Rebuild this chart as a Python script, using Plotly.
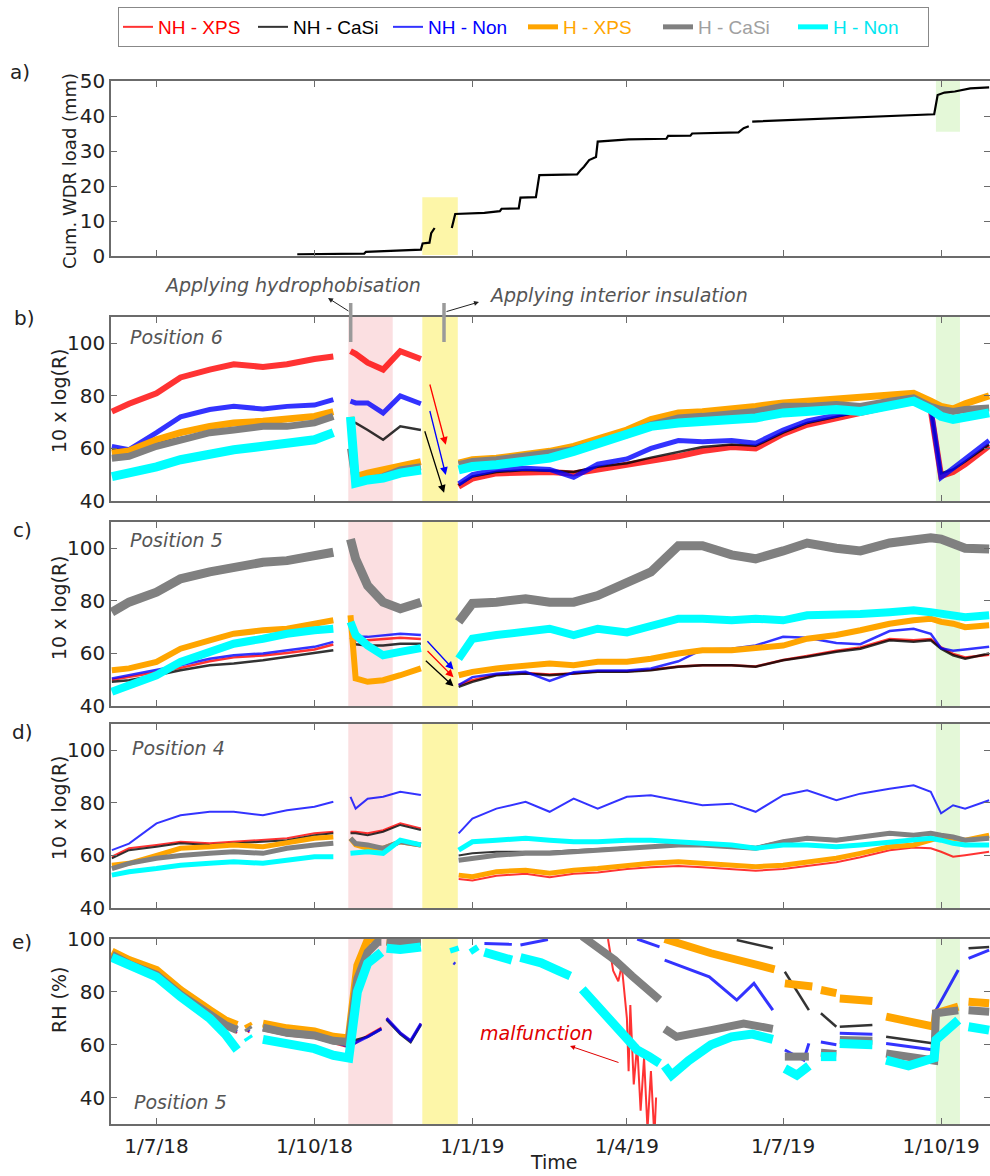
import plotly.graph_objects as go

# ---------------- data ----------------
SERIES = ["NH - XPS", "NH - CaSi", "NH - Non", "H - XPS", "H - CaSi", "H - Non"]

TICK_DATES = ["2018-07-01", "2018-10-01", "2019-01-01", "2019-04-01", "2019-07-01", "2019-10-01"]
TICK_TEXT = ["1/7/18", "1/10/18", "1/1/19", "1/4/19", "1/7/19", "1/10/19"]

# treatment periods
HYDRO_PERIOD = ["2018-10-20 17:00", "2018-11-15 14:00"]
INSUL_PERIOD = ["2018-12-02 20:00", "2018-12-23 12:00"]
RAIN_PERIOD = ["2019-09-28", "2019-10-12"]

# a) cumulative wind-driven rain load (mm)
WDR_DATES = ["2018-09-21", "2018-10-30", "2018-10-31", "2018-12-02", "2018-12-03", "2018-12-07", "2018-12-08",
             "2018-12-10", "2018-12-15", "2018-12-20", "2018-12-22", "2019-01-08", "2019-01-17", "2019-01-18",
             "2019-01-28", "2019-01-29", "2019-02-07", "2019-02-09", "2019-03-03", "2019-03-05", "2019-03-07",
             "2019-03-10", "2019-03-14", "2019-03-15", "2019-04-02", "2019-04-24", "2019-04-25", "2019-05-08",
             "2019-05-09", "2019-06-05", "2019-06-08", "2019-06-11", "2019-06-12", "2019-06-13", "2019-09-27",
             "2019-09-29", "2019-10-03", "2019-10-09", "2019-10-18", "2019-10-29"]
WDR_MM = [0.5, 0.7, 1.2, 1.8, 3.6, 3.8, 6.5, 8.0, None, 8.0, 12.0, 12.3, 12.8, 13.5, 13.6, 16.7, 16.8, 23.1,
          23.3, 24.5, 25.5, 27.4, 28.3, 32.7, 33.3, 33.5, 34.3, 34.4, 35.0, 35.3, 36.5, 37.1, None, 38.4, 40.5,
          46.0, 46.7, 47.0, 47.9, 48.2]

# b)-d) 10 x log(R), common date grid (None = no data)
R_DATES = ["2018-06-05", "2018-06-15", "2018-07-01", "2018-07-15", "2018-08-01", "2018-08-15", "2018-09-01",
           "2018-09-15", "2018-10-01", "2018-10-12", "2018-10-17",
           "2018-10-22", "2018-10-25", "2018-11-01", "2018-11-10", "2018-11-20", "2018-12-02", "2018-12-12",
           "2018-12-24", "2019-01-01", "2019-01-15", "2019-02-01", "2019-02-15", "2019-03-01", "2019-03-15",
           "2019-04-01", "2019-04-15", "2019-05-01", "2019-05-15", "2019-06-01", "2019-06-15", "2019-07-01",
           "2019-07-15", "2019-08-01", "2019-08-15", "2019-09-01", "2019-09-15", "2019-09-25", "2019-10-01",
           "2019-10-08", "2019-10-15", "2019-10-29"]

# Position 6
B_NH_XPS = [74, 77, 81, 87, 90, 92, 91, 92, 94, 95, None, 97, 96, 92.6, 90, 97, 94, None,
            45.5, 48.5, 50.5, 51, 51, 50.5, 52, 53.5, 55.5, 57, 59, 60.5, 60, 65.5, 69, 71.5, 73.5, 75.5, 78, 74.5, 49.5, 51, 54, 61]
B_NH_CASI = [59.5, 59.5, 62, 64, 66, 67, 68, 68, 69.5, 71.5, None, 70, 69.7, 67, 63.3, 68.4, 67, None,
             46, 49.3, 51, 51.8, 51.5, 51, 53, 54.4, 56.5, 58.5, 60.5, 61.5, 61, 66, 69.7, 72, 74, 76, 79, 75, 50.5, 52, 55, 61.5]
B_NH_NON = [60.8, 59.5, 66, 72, 74.8, 76, 75, 76, 76.5, 78.6, None, 78, 77.3, 77.3, 73.5, 80, 77, None,
            46.5, 50, 52, 52.5, 52, 49, 54, 56, 60, 63, 62.5, 63, 62, 67, 70.5, 72.5, 74.5, 77, 81, 75.5, 49, 52.5, 56, 63]
B_H_XPS = [58.2, 59, 63.3, 66, 68.4, 69.7, 70.3, 71, 72.2, 74, None, 72, 49.3, 50.6, 51.8, 53, 55, None,
           54.4, 55.7, 56.3, 57.6, 58.9, 60.8, 63.3, 67, 71, 73.5, 74, 74.8, 76, 77.3, 78, 78.6, 79.2, 80, 81, 78, 76, 75, 77, 80]
B_H_CASI = [56.3, 57, 60.8, 63.3, 66, 67, 68.4, 68.4, 69.7, 72.2, None, 60, 46.8, 48, 49.3, 51.8, 53, None,
            53.8, 55, 55.7, 56.9, 58.2, 59.5, 62, 65.2, 69, 71.6, 72.2, 72.9, 74.1, 76, 76, 76.7, 76, 78, 79.2, 76, 74.8, 74.1, 74.8, 75.4]
B_H_NON = [49.3, 50.6, 53, 55.7, 58.2, 59.5, 60.8, 62, 63.3, 66, None, 72, 46.8, 48, 48.7, 50.6, 51.8, None,
           51.8, 53.1, 53.8, 55, 56.3, 58.9, 62, 65.9, 68.4, 69.7, 70.3, 71, 71.6, 73.5, 74.1, 74.8, 74.1, 76.7, 78, 74.8, 72.2, 71, 71.6, 73.5]

# Position 5
C_NH_XPS = [50, 51, 52.8, 54.5, 57, 58.5, 59.2, 60.2, 61.5, 63.4, None, 68, 65, 65, 65.6, 66, 65.5, None,
            48, 49.8, 52, 52.6, 52, 52.4, 53.2, 53.2, 53.8, 55, 55.5, 55.5, 55, 57.5, 59, 61, 62.3, 65.5, 65, 65.5, 62.3, 59.8, 58.5, 59.5]
C_NH_CASI = [49.2, 49.8, 51.7, 53.6, 55.5, 56.2, 57.4, 58.7, 60, 61.2, None, 66, 63.5, 63, 63, 63.7, 63.7, None,
             47.3, 49.2, 51.7, 52.4, 51.7, 52.4, 53, 53, 53.6, 54.9, 55.5, 55.5, 54.9, 57.4, 58.7, 60.6, 61.8, 65, 64.4, 65, 61.8, 59.3, 58, 60]
C_NH_NON = [50.5, 51.7, 53.6, 55.5, 58, 59.3, 60, 61.2, 62.5, 64.4, None, 69.4, 66.3, 66.3, 67, 67.5, 67, None,
            48, 51, 52.3, 53, 49.5, 52.8, 53.5, 53.5, 54.3, 57, 61.5, 61.8, 63, 66.3, 66, 64, 63.5, 68.5, 69.4, 67.5, 62, 61, 61.5, 62.5]
C_H_XPS = [53.6, 54.3, 56.8, 61.8, 65, 67.5, 68.8, 69.4, 71.3, 72.6, None, 74.5, 50.5, 49.2, 49.8, 51.7, 54.3, None,
           51.7, 53, 54.3, 55.5, 56.2, 55.5, 56.8, 56.8, 58, 60, 61.2, 61.2, 61.8, 63, 65.6, 67, 68.8, 71.3, 72.6, 73.2, 72, 71.3, 70, 70.7]
C_H_CASI = [75.7, 79.5, 83.3, 88.4, 91, 92.8, 94.7, 95.3, 97.2, 98.5, None, 103.5, 96, 85.8, 79.5, 77, 79.5, None,
            72, 79, 79.5, 80.8, 79.5, 79.5, 82, 87, 91, 101, 101, 97.5, 96, 99, 102, 100, 99, 102, 103.5, 104, 103.5, 101.5, 100, 99.7]
C_H_NON = [45.4, 48, 51.7, 56.8, 60.6, 63.7, 65.6, 67.5, 68.8, 69.4, None, 72, 67, 63, 59.3, 60.6, 62, None,
           58, 65.6, 67, 68, 69.4, 67, 69.4, 68, 70.7, 73.2, 73.2, 72.6, 73.2, 72.6, 74.5, 74.5, 75, 75.7, 76.4, 75.7, 75, 74.5, 73.8, 74.5]

# Position 4
D_NH_XPS = [59.5, 62.7, 64, 65.2, 64.6, 65.2, 65.8, 66.5, 68.4, 69, None, 69, 69, 68.4, 69.6, 72.2, 70.3, None,
            51, 50.5, 52.3, 53, 51.7, 53, 53.5, 54.8, 55.5, 56, 55.5, 54.8, 54.2, 54.8, 56, 57.4, 59.3, 62, 63, 62.7, 61.4, 59.5, 60.1, 61.4]
D_NH_CASI = [58.9, 62, 63.3, 64.6, 64, 64.6, 65.2, 65.8, 67.7, 68.4, None, 68.4, 68.4, 67.7, 69, 71.6, 69.7, None,
             60, 60.8, 61.4, 61.4, 61.4, 62, 62.5, 63, 63.5, 64.5, 64.5, 63.8, 63.2, 65.5, 66.8, 66.2, 67.3, 68.6, 68, 68.6, 67.8, 67.2, 66, 66.8]
D_NH_NON = [62, 64.5, 72.2, 75.3, 76.6, 76.6, 75.3, 77.2, 78.5, 80.4, None, 82.3, 77.8, 81.6, 82.3, 84.2, 83, None,
            68.4, 74, 77.8, 80.4, 76.6, 81.6, 77.8, 82.3, 82.9, 81, 79.1, 79.7, 76.6, 82.9, 84.8, 81, 83.5, 85.4, 86.7, 84.2, 76, 79.1, 77.8, 81]
D_H_XPS = [56.3, 57, 60, 62.7, 63.3, 64, 63.3, 64.6, 66.5, 67, None, 66.5, 64, 62.7, 62.7, 65.2, 64, None,
           52.5, 51.9, 53.8, 54.4, 53.2, 54.4, 55, 56.3, 57, 57.6, 57, 56.3, 55.7, 56.3, 57.6, 58.9, 60.8, 63.3, 64, 65.8, 67, 66.5, 65.8, 67.7]
D_H_CASI = [55, 57, 58.9, 60, 60.8, 61.4, 60.8, 62.7, 64, 64.6, None, 66.5, 64.5, 64, 62.7, 65.2, 64, None,
            58.2, 58.9, 60.1, 60.8, 60.8, 61.4, 62, 62.7, 63.3, 64, 64, 63.3, 62.7, 65.2, 66.5, 65.8, 67, 68.4, 67.7, 68.4, 67.7, 67, 65.8, 66.5]
D_H_NON = [52.5, 53.8, 55, 56.3, 57, 57.6, 57, 58.2, 59.5, 59.5, None, 60.8, 61, 61.4, 60.8, 65.8, 64, None,
           62, 65.2, 65.8, 66.5, 65.8, 65.2, 65.2, 65.8, 65.8, 65.2, 64.6, 64, 62.7, 64, 64, 63.3, 64, 65.2, 65.8, 66.5, 65.8, 64.6, 64, 64]

# e) RH (%) at position 5, each sensor has its own gaps
E_PRE_DATES = ["2018-06-05", "2018-06-15", "2018-07-01", "2018-07-15", "2018-08-01", "2018-08-10", "2018-08-17",
               "2018-08-20", "2018-08-23", "2018-08-24", "2018-08-28", "2018-09-01", "2018-09-15", "2018-10-01",
               "2018-10-12", "2018-10-21"]
E_HYD_DATES = ["2018-10-23", "2018-10-26", "2018-11-01", "2018-11-07", "2018-11-09", "2018-11-10", "2018-11-12",
               "2018-11-20", "2018-11-26", "2018-12-02", "2018-12-10"]
E_NH_HYD_DATES = ["2018-11-01", "2018-11-09", "2018-11-10", "2018-11-12", "2018-11-15", "2018-11-20", "2018-11-26",
                  "2018-12-02", "2018-12-10"]

E_NH_XPS_DATES = E_PRE_DATES + E_NH_HYD_DATES + [
    "2019-03-21", "2019-03-24", "2019-03-27", "2019-03-29", "2019-04-01", "2019-04-02", "2019-04-03", "2019-04-05",
    "2019-04-07", "2019-04-09", "2019-04-11", "2019-04-13", "2019-04-15", "2019-04-17", "2019-04-18"]
E_NH_XPS = [93, 89.5, 85.5, 78, 70.5, 66.5, 64.5, None, 65.5, 64.5, None, 65.5, 63.5, 62.5, 60.5, 59,
            63.5, 66.5, None, 70, 68, 64.5, 61.5, 68, None,
            100, 88, 84, 90, 70, 50, 75, 45, 60, 35, 55, 28, 50, 25, 40]

E_NH_CASI_DATES = E_PRE_DATES + E_NH_HYD_DATES + [
    "2019-06-04", "2019-06-25", "2019-06-29", "2019-07-02", "2019-07-16", "2019-07-20", "2019-07-23", "2019-08-01",
    "2019-08-02", "2019-08-03", "2019-08-22", "2019-08-26", "2019-08-30", "2019-09-27", "2019-09-28", "2019-10-17",
    "2019-10-29"]
E_NH_CASI = [94.5, 91.5, 87.5, 80, 72.5, 69, 67, None, 67.5, 66.5, None, 67.5, 66, 64.5, 62.5, 61,
             63, 66, None, 69.5, 67.5, 64, 61, 67.5, None,
             99.6, 96.5, None, 87.6, 73.1, None, 71.9, 66.8, None, 66.8, 67.5, None, 63, 60.5, None, 96.5, 97]

E_NH_NON_DATES = E_PRE_DATES + E_NH_HYD_DATES + [
    "2018-12-21", "2018-12-22", "2018-12-27", "2019-01-08", "2019-01-24", "2019-01-26", "2019-01-29", "2019-02-14",
    "2019-02-20", "2019-04-07", "2019-04-20", "2019-04-21", "2019-04-23", "2019-05-19", "2019-06-04", "2019-06-14",
    "2019-06-25", "2019-06-29", "2019-07-02", "2019-07-13", "2019-07-16", "2019-07-20", "2019-07-23", "2019-08-01",
    "2019-08-02", "2019-08-03", "2019-08-22", "2019-08-26", "2019-08-30", "2019-09-27", "2019-09-28", "2019-10-11",
    "2019-10-14", "2019-10-17", "2019-10-29"]
E_NH_NON = [93.5, 90, 86, 78.5, 71, 67, 65, None, 66, 65, None, 66, 64, 63, 61, 59.5,
            63, 66, None, 70, 68, 64.5, 61.5, 68, None,
            91, 90.5, None, 98.3, 98, None, 97.7, 99.8, None, 100, 97, None, 92, 85.7, 76.9, 83.2, 73.1, None,
            58, 54.2, 60.5, None, 61, 60, None, 64.3, 64, None, 60.5, 58, 73, 88.3, None, 92.7, 95.8]

E_H_XPS_DATES = E_PRE_DATES + E_HYD_DATES + [
    "2019-04-23", "2019-05-20", "2019-06-26", "2019-06-29", "2019-07-02", "2019-07-18", "2019-07-20", "2019-07-23",
    "2019-08-01", "2019-08-02", "2019-08-03", "2019-08-22", "2019-08-26", "2019-08-30", "2019-09-27", "2019-09-28",
    "2019-10-11", "2019-10-14", "2019-10-17", "2019-10-29"]
E_H_XPS = [95.2, 92, 88.3, 80.7, 73.1, 69.3, 67.5, None, 68, 66.8, None, 68, 66.2, 65, 63, 62.4,
           75, 90, 99.6, 101, 100, None, 99, 98.5, 99, 99, None,
           100, 94.6, 88.5, None, 83.2, 82, None, 80.7, 79.5, None, 77.5, 76.5, None, 70.6, 66.8, 71.9, 74.4, None,
           76.3, 75.7]

E_H_CASI_DATES = E_PRE_DATES + E_HYD_DATES + [
    "2019-03-06", "2019-03-15", "2019-03-25", "2019-04-04", "2019-04-12", "2019-04-20", "2019-04-21", "2019-04-23",
    "2019-04-30", "2019-05-20", "2019-06-08", "2019-06-25", "2019-06-29", "2019-07-02", "2019-07-16", "2019-07-20",
    "2019-07-23", "2019-08-01", "2019-08-02", "2019-08-03", "2019-08-22", "2019-08-26", "2019-08-30", "2019-09-27",
    "2019-09-28", "2019-10-11", "2019-10-14", "2019-10-17", "2019-10-29"]
E_H_CASI = [94, 90.5, 86.5, 79, 71.5, 67.5, 65.5, None, 66.5, 65.5, None, 66.5, 64.5, 63.5, 61.5, 61,
            70, 85, 95, 99, 99, None, 99, 98.5, 99, 99, None,
            101, 97, 92, 86, 81, 77, None, 66, 63, 65.5, 68, 66, None, 55.5, 55.5, None, 57, 56.5, None,
            61.8, 61.5, None, 56.7, 54, 71.9, 73, None, 73, 72.5]

E_H_NON_DATES = E_PRE_DATES + E_HYD_DATES + [
    "2018-12-21", "2018-12-22", "2018-12-27", "2019-01-01", "2019-01-03", "2019-01-06", "2019-01-08", "2019-01-15",
    "2019-01-24", "2019-01-26", "2019-01-29", "2019-02-10", "2019-02-20", "2019-02-27", "2019-03-02", "2019-03-06",
    "2019-03-15", "2019-03-23", "2019-04-01", "2019-04-07", "2019-04-14", "2019-04-20", "2019-04-21", "2019-04-23",
    "2019-04-27", "2019-05-07", "2019-05-20", "2019-06-01", "2019-06-13", "2019-06-25", "2019-06-29", "2019-07-02",
    "2019-07-09", "2019-07-16", "2019-07-20", "2019-07-23", "2019-08-01", "2019-08-02", "2019-08-03", "2019-08-22",
    "2019-08-26", "2019-08-30", "2019-09-12", "2019-09-27", "2019-09-28", "2019-10-11", "2019-10-14", "2019-10-17",
    "2019-10-29"]
E_H_NON = [93, 90, 85.7, 78.2, 70, 64, 58, None, 63, 62, None, 62, 60, 58.5, 56, 55,
           65, 80, 90.8, 94, 95, None, 96.5, 96, 96.5, 97, None,
           97, 95, None, 97, 95, None, 95, 94, 92, None, 93, 91, 88, 86, None, 81, 74.4, 69.3, 63, 58, 55.5, 53, None,
           52, 48.5, 54, 60, 63, 64, 62, None, 51, 48.5, 52, None, 55.5, 55.5, None, 60.5, 60, None,
           54.2, 52, 55, 61.8, 69.3, None, 66.8, 65.5]

# ---------------- styling ----------------
LINE_COLORS = ["rgba(255,0,0,0.8)", "rgba(0,0,0,0.8)", "rgba(0,0,255,0.8)", "#FFA500", "#808080", "#00FFFF"]
TEXT_COLORS = ["#FF0000", "#000000", "#0000FF", "#FFA500", "#A0A0A0", "#00E6F0"]
WIDTHS = {
    "b": [6, 2.5, 5, 7, 7, 9],
    "c": [2.5, 2.5, 2.5, 6, 9, 8],
    "d": [2, 2, 2, 5, 5, 5],
    "e": [2, 2.5, 3, 8, 8, 9],
}
FONT = "DejaVu Sans"
AXIS_COLOR = "#6b6b6b"
W, H = 990, 1176
LEFT = 111
PLOT_W = W - LEFT


def px_x(px):
    return (px - LEFT) / PLOT_W


def px_y(py):
    return 1 - py / H


# panel pixel extents (top, bottom)
PANELS = {"a": (81, 256), "b": (317, 501), "c": (522, 706), "d": (724, 908), "e": (939, 1124)}
AXIS_IDS = {"a": "", "b": "2", "c": "3", "d": "4", "e": "5"}

fig = go.Figure()

# a)
fig.add_trace(go.Scatter(x=WDR_DATES, y=WDR_MM, mode="lines", line=dict(color="black", width=2.2),
                         showlegend=False, xaxis="x", yaxis="y", name="Cum. WDR"))

R_DATA = {
    "b": [B_NH_XPS, B_NH_CASI, B_NH_NON, B_H_XPS, B_H_CASI, B_H_NON],
    "c": [C_NH_XPS, C_NH_CASI, C_NH_NON, C_H_XPS, C_H_CASI, C_H_NON],
    "d": [D_NH_XPS, D_NH_CASI, D_NH_NON, D_H_XPS, D_H_CASI, D_H_NON],
}
for key in ["b", "c", "d"]:
    aid = AXIS_IDS[key]
    for s, vals in enumerate(R_DATA[key]):
        fig.add_trace(go.Scatter(
            x=R_DATES, y=vals, mode="lines",
            line=dict(color=LINE_COLORS[s], width=WIDTHS[key][s]),
            name="<span style='color:%s'>%s</span>" % (TEXT_COLORS[s], SERIES[s]),
            legendgroup=SERIES[s], showlegend=(key == "d"),
            xaxis="x" + aid, yaxis="y" + aid))

E_DATA = [(E_NH_XPS_DATES, E_NH_XPS), (E_NH_CASI_DATES, E_NH_CASI), (E_NH_NON_DATES, E_NH_NON),
          (E_H_XPS_DATES, E_H_XPS), (E_H_CASI_DATES, E_H_CASI), (E_H_NON_DATES, E_H_NON)]
for s, (dts, vals) in enumerate(E_DATA):
    fig.add_trace(go.Scatter(
        x=dts, y=vals, mode="lines", line=dict(color=LINE_COLORS[s], width=WIDTHS["e"][s]),
        name=SERIES[s], legendgroup=SERIES[s], showlegend=False, xaxis="x5", yaxis="y5"))

# ---------------- axes ----------------
XRANGE = ["2018-06-04 12:00", "2019-10-29 12:00"]
layout_axes = {}
for key, (top, bot) in PANELS.items():
    aid = AXIS_IDS[key]
    xname = "xaxis" + aid
    yname = "yaxis" + aid
    layout_axes[xname] = dict(
        domain=[0, 1], anchor="y" + aid, type="date", range=XRANGE,
        tickvals=TICK_DATES, ticktext=TICK_TEXT, showticklabels=(key == "e"),
        ticks="inside", ticklen=6, tickwidth=1.3, tickcolor=AXIS_COLOR,
        showline=True, linecolor=AXIS_COLOR, linewidth=1.6, mirror="ticks",
        showgrid=False, zeroline=False, automargin=False,
        tickfont=dict(family=FONT, size=20, color="#222"), ticklabelstandoff=3)
    if key == "a":
        yr, yt = [0, 50], [0, 10, 20, 30, 40, 50]
    elif key == "e":
        yr, yt = [30, 100], [40, 60, 80, 100]
    else:
        yr, yt = [40, 110], [40, 60, 80, 100]
    layout_axes[yname] = dict(
        domain=[px_y(bot), px_y(top)], anchor="x" + aid, range=yr, tickvals=yt,
        ticks="inside", ticklen=6, tickwidth=1.3, tickcolor=AXIS_COLOR,
        showline=True, linecolor=AXIS_COLOR, linewidth=1.6, mirror="ticks",
        showgrid=False, zeroline=False, automargin=False,
        tickfont=dict(family=FONT, size=20, color="#222"))

# ---------------- shaded periods ----------------
shapes = []
PINK, YELLOW, GREEN = "#fbdfe1", "#fdf6a8", "#e4f8d8"
for key in ["b", "c", "d", "e"]:
    aid = AXIS_IDS[key]
    for (p, col) in [(HYDRO_PERIOD, PINK), (INSUL_PERIOD, YELLOW), (RAIN_PERIOD, GREEN)]:
        shapes.append(dict(type="rect", xref="x" + aid, yref="y%s domain" % aid, x0=p[0], x1=p[1], y0=0, y1=1,
                           fillcolor=col, line=dict(width=0), layer="below"))
shapes.append(dict(type="rect", xref="x", yref="y", x0=INSUL_PERIOD[0], x1=INSUL_PERIOD[1], y0=0.3, y1=16.8,
                   fillcolor=YELLOW, line=dict(width=0), layer="below"))
shapes.append(dict(type="rect", xref="x", yref="y", x0=RAIN_PERIOD[0], x1=RAIN_PERIOD[1], y0=35.5, y1=50,
                   fillcolor=GREEN, line=dict(width=0), layer="below"))
# treatment markers (grey bars)
for bx in (350.7, 444):
    shapes.append(dict(type="line", xref="paper", yref="paper", x0=px_x(bx), x1=px_x(bx),
                       y0=px_y(342), y1=px_y(303), line=dict(color="#9a9a9a", width=3.5)))

# ---------------- annotations ----------------
ann = []


def text_ann(txt, x, y, size=20, color="#222", xanchor="center", angle=0):
    return dict(text=txt, x=px_x(x), y=px_y(y), xref="paper", yref="paper", showarrow=False,
                xanchor=xanchor, yanchor="middle", textangle=angle,
                font=dict(family=FONT, size=size, color=color))


for txt, x, y in [("a)", 20, 72), ("b)", 24, 318), ("c)", 22, 530), ("d)", 22, 732), ("e)", 22, 942)]:
    ann.append(text_ann(txt, x, y, size=20))
ann.append(text_ann("Cum. WDR load (mm)", 69, 171, size=18, angle=-90))
for y in (401, 608, 808):
    ann.append(text_ann("10 x log(R)", 59, y, size=19, angle=-90))
ann.append(text_ann("RH (%)", 59, 1000, size=19, angle=-90))
ann.append(text_ann("Time", 554, 1162, size=19))
for txt, x, y in [("Position 6", 128, 337), ("Position 5", 128, 540), ("Position 4", 130, 748),
                  ("Position 5", 132, 1102)]:
    ann.append(text_ann("<i>%s</i>" % txt, x, y, size=19, color="#555", xanchor="left"))
ann.append(text_ann("<i>Applying hydrophobisation</i>", 292, 285, size=19, color="#555"))
ann.append(text_ann("<i>Applying interior insulation</i>", 487, 295, size=19, color="#555", xanchor="left"))
ann.append(text_ann("<i>malfunction</i>", 536, 1033, size=19, color="#e00000"))
# pointer arrows
for hx, hy, ax, ay, col in [(328, 298, 22, 14, "#222"), (479, 302, -34, 10, "#222"), (570, 1046, 50, 17, "#e00000")]:
    ann.append(dict(text="", x=px_x(hx), y=px_y(hy), xref="paper", yref="paper", ax=ax, ay=ay, showarrow=True,
                    arrowhead=2, arrowsize=1, arrowwidth=1, arrowcolor=col))
# drop arrows after insulation (data coordinates)
DROP_ARROWS = [
    ("x2", "y2", "2018-12-07", 84.9, "2018-12-16 12:00", 61.4, "#ff0000"),
    ("x2", "y2", "2018-12-07", 74.8, "2018-12-16 12:00", 49.9, "#0000ff"),
    ("x2", "y2", "2018-12-04", 67.1, "2018-12-15 12:00", 43.1, "#000000"),
    ("x3", "y3", "2018-12-05", 65.2, "2018-12-21", 53.9, "#0000ff"),
    ("x3", "y3", "2018-12-05", 61.5, "2018-12-21", 50.9, "#ff0000"),
    ("x3", "y3", "2018-12-04", 57.7, "2018-12-21", 47.5, "#000000"),
]
for xr, yr_, x0, y0, x1, y1, col in DROP_ARROWS:
    ann.append(dict(text="", x=x1, y=y1, xref=xr, yref=yr_, ax=x0, ay=y0, axref=xr, ayref=yr_, showarrow=True,
                    arrowhead=2, arrowsize=1.2, arrowwidth=1.3, arrowcolor=col))

fig.update_layout(
    width=W, height=H, margin=dict(l=LEFT, r=0, t=0, b=0),
    paper_bgcolor="white", plot_bgcolor="white",
    font=dict(family=FONT, size=19, color="#222"),
    shapes=shapes, annotations=ann,
    legend=dict(orientation="h", x=px_x(118), y=px_y(7), xanchor="left", yanchor="top",
                bordercolor="#888", borderwidth=1, bgcolor="white",
                font=dict(family="Liberation Sans", size=19),
                itemwidth=30, tracegroupgap=0, entrywidth=90, entrywidthmode="pixels"),
    **layout_axes)

fig.write_html("out.html", config={"displayModeBar": False},
               post_script="document.body.style.margin='0';")
